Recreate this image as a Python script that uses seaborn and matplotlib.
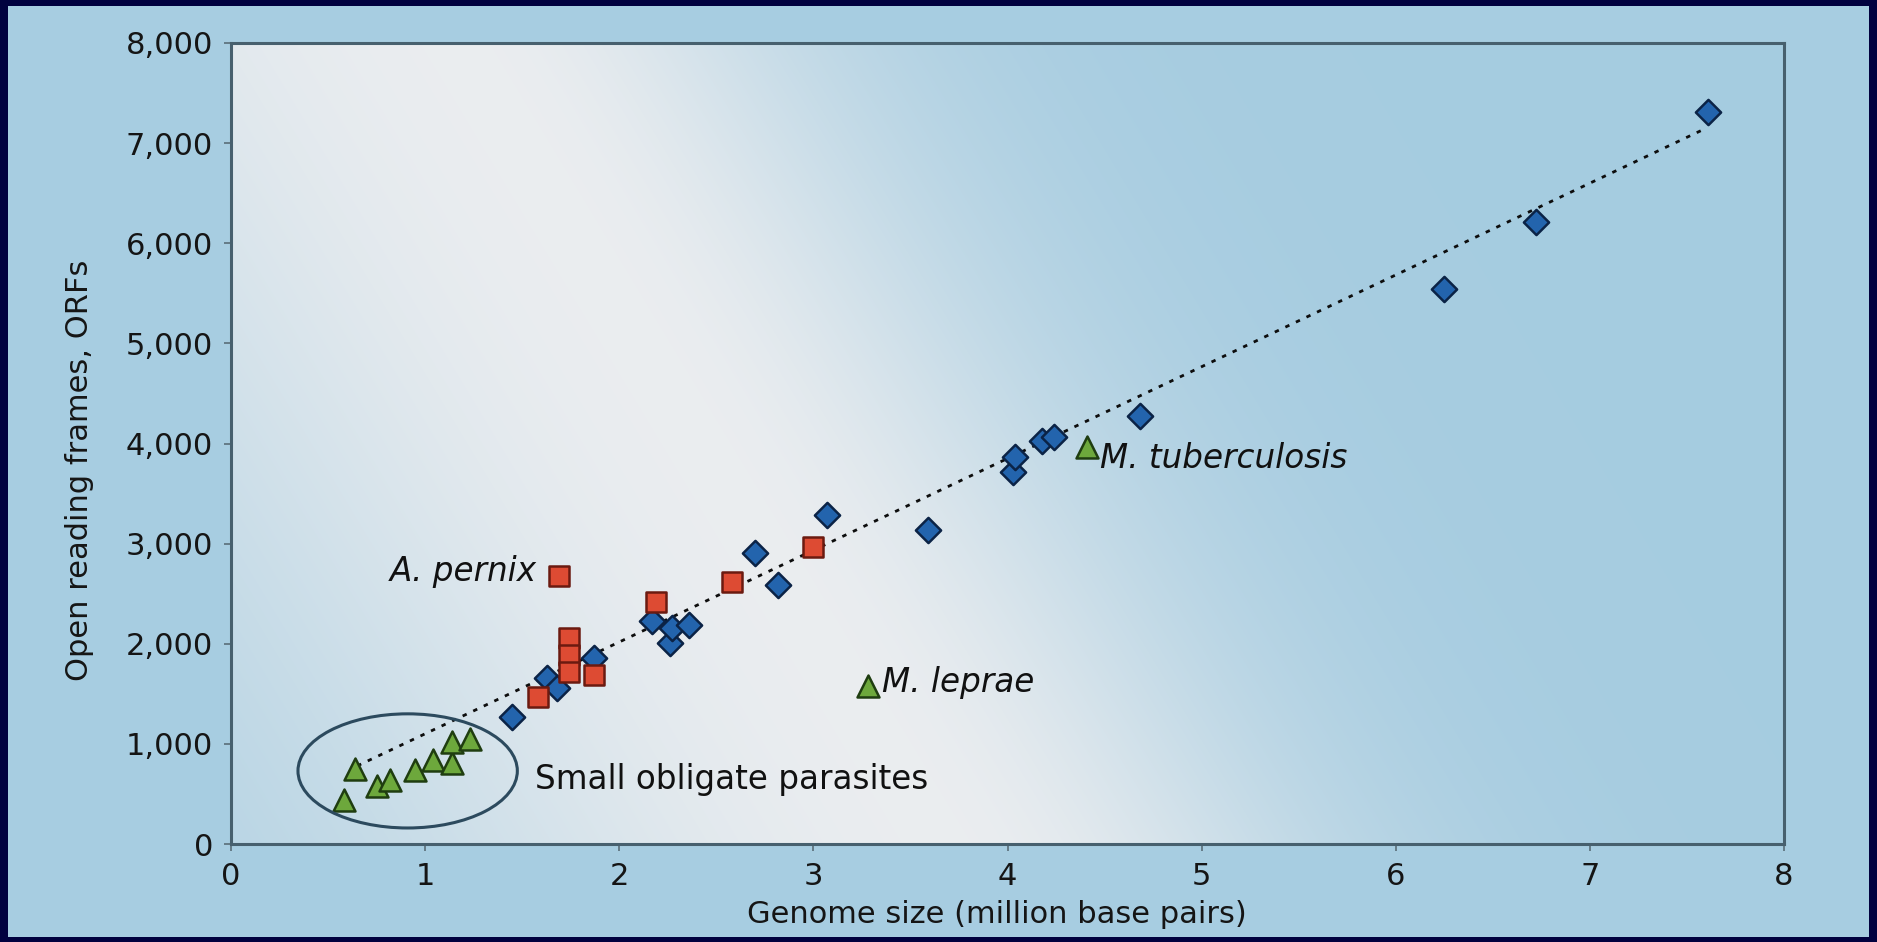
import numpy as np
import pandas as pd
import matplotlib
matplotlib.use('Agg')
import matplotlib.pyplot as plt
from matplotlib.patches import Ellipse, Rectangle
import seaborn as sns

# genome size (million bp) vs number of ORFs
bact_x = [1.45, 1.63, 1.68, 1.87, 2.17, 2.26, 2.27, 2.36, 2.70, 2.82,
          3.07, 3.59, 4.03, 4.04, 4.18, 4.24, 4.68, 6.25, 6.72, 7.61]
bact_y = [1270, 1660, 1560, 1860, 2230, 2010, 2160, 2190, 2910, 2590,
          3290, 3140, 3720, 3870, 4020, 4060, 4270, 5540, 6210, 7310]

arch_x = [1.58, 1.69, 1.74, 1.74, 1.74, 1.87, 2.19, 2.58, 3.00]
arch_y = [1470, 2680, 2060, 1890, 1720, 1690, 2420, 2620, 2970]

para_x = [0.58, 0.64, 0.75, 0.82, 0.95, 1.04, 1.14, 1.14, 1.23, 3.28, 4.41]
para_y = [440, 750, 580, 640, 740, 840, 810, 1020, 1050, 1580, 3970]

trend_x = [0.65, 7.60]
trend_y = [780, 7150]

xticks = [0, 1, 2, 3, 4, 5, 6, 7, 8]
yticks = [0, 1000, 2000, 3000, 4000, 5000, 6000, 7000, 8000]
ytick_labels = ['0', '1,000', '2,000', '3,000', '4,000', '5,000', '6,000', '7,000', '8,000']

df = pd.DataFrame({
    'genome': bact_x + arch_x + para_x,
    'orfs': bact_y + arch_y + para_y,
    'group': ['bacteria'] * len(bact_x) + ['archaea'] * len(arch_x) + ['parasite'] * len(para_x),
})

sns.set_style("ticks")
plt.rcParams['font.family'] = ['DejaVu Sans']

W, H = 1877, 942
fig = plt.figure(figsize=(W / 100, H / 100), dpi=100)
fig.patch.set_facecolor('#01013f')
fig.patches.append(Rectangle((8 / W, 5 / H), 1 - 16 / W, 1 - 11 / H, transform=fig.transFigure,
                             facecolor='#a7cde1', edgecolor='none', zorder=-10))

ax = fig.add_axes([231 / W, 1 - 844 / H, (1784 - 231) / W, (844 - 43) / H])

# light diagonal sheen across the plot area
u = np.linspace(0, 1, 400)[None, :]
v = np.linspace(1, 0, 200)[:, None]
d = u - (0.46 - 0.31 * v)
w = np.where(d > 0, np.exp(-(d / 0.24) ** 2), np.exp(-(d / 0.42) ** 2))
light = np.array([0.92, 0.93, 0.94])
blue = np.array([0.65, 0.80, 0.88])
img = blue + (light - blue) * w[..., None]
ax.imshow(img, extent=[0, 8, 0, 8000], aspect='auto', zorder=0, interpolation='bilinear')

# trend line
sns.lineplot(x=trend_x, y=trend_y, color='#0d0d0d', lw=2.0, linestyle=(0, (1.6, 2.6)), ax=ax, zorder=3)

styles = {
    'bacteria': ('D', '#2364ad', '#0b2346', 165),
    'archaea': ('s', '#dd4b33', '#6b1a10', 215),
    'parasite': ('^', '#6da83c', '#1f3d10', 250),
}
for grp, (mk, fc, ec, sz) in styles.items():
    sub = df[df['group'] == grp]
    sns.scatterplot(data=sub, x='genome', y='orfs', marker=mk, color=fc, edgecolor=ec,
                    linewidth=1.8, s=sz, legend=False, ax=ax, zorder=4)

ax.add_patch(Ellipse((0.91, 730), width=1.13, height=1140, fill=False,
                     edgecolor='#2c4a5e', lw=2.2, zorder=5))

ax.text(1.577, 2720, 'A. pernix', style='italic', fontsize=23.5, ha='right', va='center', color='#111111')
ax.text(4.477, 3850, 'M. tuberculosis', style='italic', fontsize=23.5, ha='left', va='center', color='#111111')
ax.text(3.354, 1610, 'M. leprae', style='italic', fontsize=23.5, ha='left', va='center', color='#111111')
ax.text(1.566, 640, 'Small obligate parasites', fontsize=23.5, ha='left', va='center', color='#111111')

ax.set_xlim(0, 8)
ax.set_ylim(0, 8000)
ax.set_xticks(xticks)
ax.set_xticklabels([str(t) for t in xticks])
ax.set_yticks(yticks)
ax.set_yticklabels(ytick_labels)
ax.tick_params(direction='out', length=5, width=1.2, color='#5a6d78', pad=8,
               labelsize=22, labelcolor='#151515')

for sp in ax.spines.values():
    sp.set_visible(True)
    sp.set_color('#47606e')
    sp.set_linewidth(2.2)

ax.set_xlabel('Genome size (million base pairs)', fontsize=22, color='#151515')
ax.set_ylabel('Open reading frames, ORFs', fontsize=22, color='#151515')
ax.xaxis.set_label_coords(0.493, -0.07)
ax.yaxis.set_label_coords(-0.088, 0.467)

fig.savefig('out.png', dpi=100, facecolor=fig.get_facecolor())
